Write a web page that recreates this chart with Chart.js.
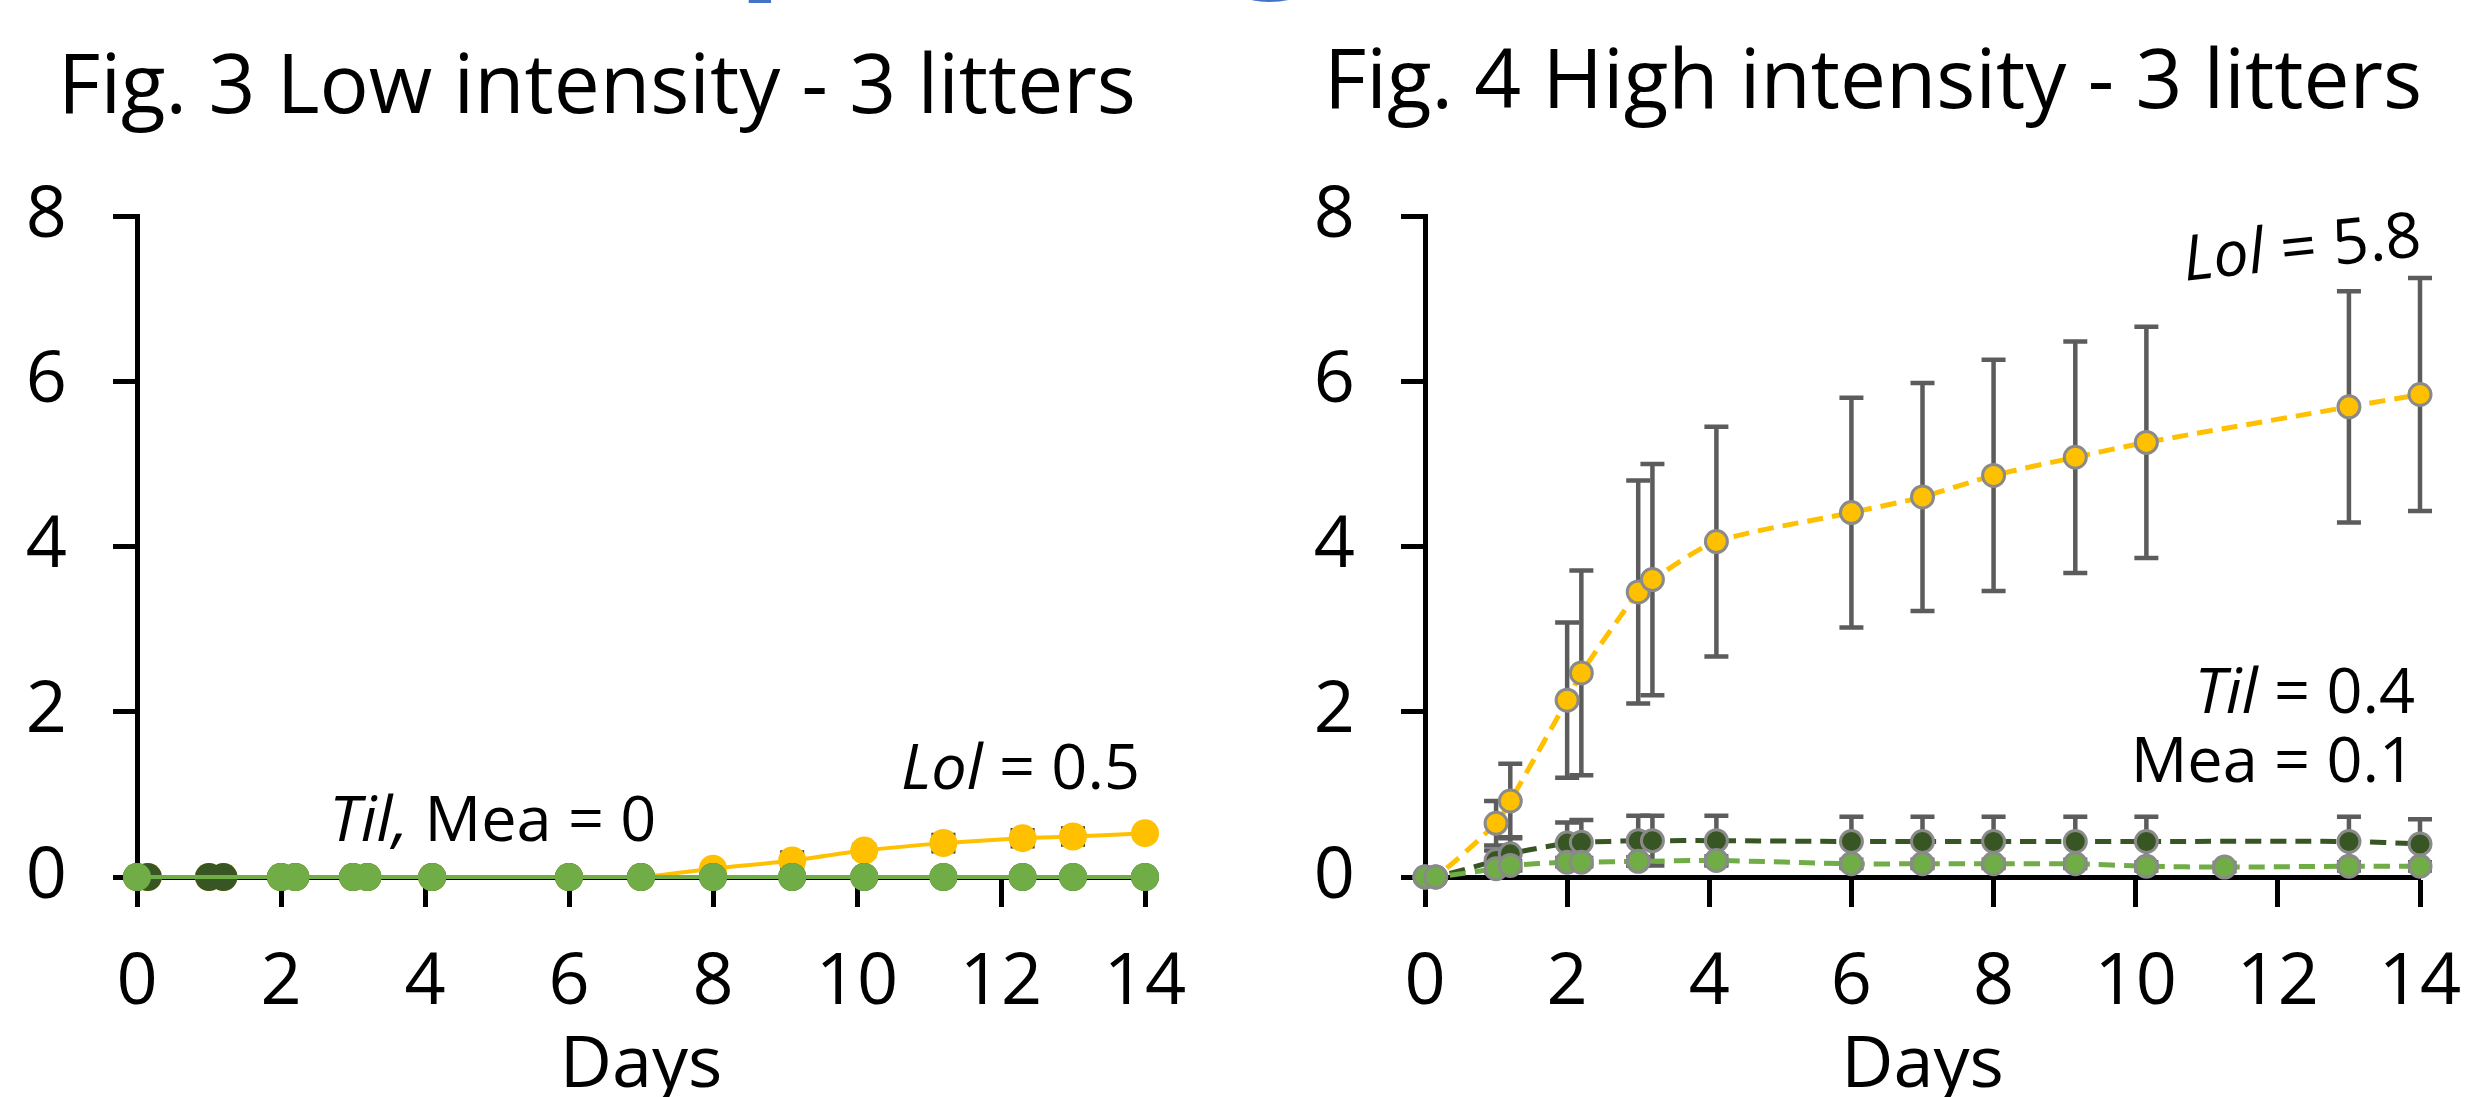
<!DOCTYPE html>
<html>
<head>
<meta charset="utf-8">
<script src="https://cdn.jsdelivr.net/npm/chart.js@4.4.1/dist/chart.umd.min.js"></script>
<style>
  html, body { margin: 0; padding: 0; background: #fff; }
  body { width: 2469px; height: 1097px; position: relative; overflow: hidden; }
  canvas { position: absolute; top: 0; }
  #fig3 { left: 0; }
  #fig4 { left: 1234px; }
</style>
</head>
<body>
<canvas id="fig3" width="1234" height="1097"></canvas>
<canvas id="fig4" width="1235" height="1097"></canvas>
<script>
// Fig. 3 - low intensity (days of sampling)
const lowDays = [0, 0.15, 1, 1.2, 2, 2.2, 3, 3.2, 4.1, 6, 7, 8, 9.1, 10.1, 11.2, 12.3, 13, 14];
const lowLol = [0, 0, 0, 0, 0, 0, 0, 0, 0, 0, 0, 0.1, 0.2, 0.32, 0.41, 0.47, 0.49, 0.53];
const lowLolErr = [0, 0, 0, 0, 0, 0, 0, 0, 0, 0, 0, 0.05, 0.1, 0.07, 0.1, 0.1, 0.1, 0.05];
const lowTil = [0, 0, 0, 0, 0, 0, 0, 0, 0, 0, 0, 0, 0, 0, 0, 0, 0, 0];
const lowMea = [0, null, null, null, 0, 0, 0, 0, 0, 0, 0, 0, 0, 0, 0, 0, 0, 0];

// Fig. 4 - high intensity
const highDays = [0, 0.15, 1, 1.2, 2, 2.2, 3, 3.2, 4.1, 6, 7, 8, 9.15, 10.15, 11.25, 13, 14];
const highLol = [0, 0, 0.65, 0.92, 2.14, 2.47, 3.45, 3.6, 4.06, 4.41, 4.6, 4.86, 5.08, 5.26, null, 5.69, 5.84];
const highLolErr = [0, 0, 0.27, 0.45, 0.94, 1.24, 1.35, 1.4, 1.39, 1.39, 1.38, 1.4, 1.4, 1.4, null, 1.4, 1.41];
const highTil = [0, 0, 0.2, 0.28, 0.41, 0.42, 0.44, 0.44, 0.44, 0.43, 0.43, 0.43, 0.43, 0.43, null, 0.43, 0.4];
const highTilErr = [0, 0, 0.12, 0.2, 0.25, 0.27, 0.3, 0.3, 0.3, 0.3, 0.3, 0.3, 0.3, 0.3, null, 0.3, 0.3];
const highMea = [0, 0, 0.1, 0.14, 0.18, 0.18, 0.19, null, 0.2, 0.16, 0.16, 0.16, 0.16, 0.13, 0.12, 0.13, 0.13];
const highMeaErr = [0, 0, 0.04, 0.05, 0.05, 0.05, 0.05, null, 0.05, 0.05, 0.05, 0.05, 0.05, 0.05, 0.05, 0.05, 0.05];

const xTicks = [0, 2, 4, 6, 8, 10, 12, 14];
const yTicks = [0, 2, 4, 6, 8];

const FONT = '"Open Sans", "Noto Sans", sans-serif';
const LOL = '#FFC000', TIL = '#375623', MEA = '#70AD47';

// zip days + values into points, drop the missing ones
function pts(days, vals, errs) {
  const out = [];
  days.forEach((d, i) => {
    if (vals[i] == null) return;
    out.push({ x: d, y: vals[i], e: errs ? errs[i] : 0 });
  });
  return out;
}

// error bars, drawn just under each dataset's own markers
const errorBars = {
  id: 'errorBars',
  beforeDatasetDraw(chart, args) {
    const ds = chart.data.datasets[args.index];
    if (!ds.errColor) return;
    const { x, y } = chart.scales;
    const ctx = chart.ctx;
    ctx.save();
    ctx.strokeStyle = ds.errColor;
    ctx.lineWidth = ds.errWidth;
    ds.data.forEach(p => {
      if (!p.e) return;
      const px = x.getPixelForValue(p.x);
      const t = y.getPixelForValue(p.y + p.e);
      const b = y.getPixelForValue(p.y - p.e);
      ctx.beginPath();
      ctx.moveTo(px, t); ctx.lineTo(px, b);
      ctx.moveTo(px - ds.capHalf, t); ctx.lineTo(px + ds.capHalf, t);
      ctx.moveTo(px - ds.capHalf, b); ctx.lineTo(px + ds.capHalf, b);
      ctx.stroke();
    });
    ctx.restore();
  }
};

// titles, notes (with italic species names) and the cut heading at the top
const texts = {
  id: 'texts',
  afterDraw(chart, args, opts) {
    const ctx = chart.ctx;
    const { x, y } = chart.scales;
    ctx.save();
    ctx.fillStyle = '#000';
    ctx.textBaseline = 'alphabetic';
    // title
    const t = opts.title;
    ctx.font = `${t.size}px ${FONT}`;
    ctx.textAlign = 'center';
    ctx.fillText(t.text, t.cx, t.base);
    // notes
    ctx.textAlign = 'left';
    opts.notes.forEach(n => {
      const fonts = n.segs.map(s => `${s[1] ? 'italic ' : ''}${n.size}px ${FONT}`);
      let w = 0;
      n.segs.forEach((s, i) => { ctx.font = fonts[i]; w += ctx.measureText(s[0]).width; });
      ctx.save();
      ctx.translate(x.getPixelForValue(n.x), y.getPixelForValue(n.y));
      if (n.rot) ctx.rotate(n.rot * Math.PI / 180);
      let cx = n.align === 'right' ? -w : 0;
      n.segs.forEach((s, i) => {
        ctx.font = fonts[i];
        ctx.fillText(s[0], cx, 0);
        cx += ctx.measureText(s[0]).width;
      });
      ctx.restore();
    });
    // blue heading cut off by the top edge (only descender tips left)
    ctx.fillStyle = '#4472C4';
    (opts.cut || []).forEach(c => {
      ctx.font = `bold ${c.size}px ${FONT}`;
      ctx.fillText(c.text, c.x, c.base);
    });
    ctx.restore();
  }
};

function scales(yWidth) {
  const tickFont = { family: FONT, size: 72 };
  return {
    x: {
      type: 'linear', min: 0, max: 14,
      afterBuildTicks: s => { s.ticks = xTicks.map(v => ({ value: v })); },
      ticks: { color: '#000', font: { family: FONT, size: 72, lineHeight: 2.0 }, padding: 4, maxRotation: 0, autoSkip: false },
      grid: { display: true, drawOnChartArea: false, drawTicks: true, tickLength: 30, tickWidth: 5, tickColor: '#000' },
      border: { display: true, color: '#000', width: 5 },
      title: { display: true, text: 'Days', color: '#000', font: { family: FONT, size: 72, lineHeight: 0.8 }, padding: { top: 0, bottom: 2 } },
      afterFit: s => { s.height = 220; }
    },
    y: {
      min: 0, max: 8,
      afterBuildTicks: s => { s.ticks = yTicks.map(v => ({ value: v })); },
      ticks: { color: '#000', font: tickFont, padding: 46 },
      grid: { display: true, drawOnChartArea: false, drawTicks: true, tickLength: 24, tickWidth: 5, tickColor: '#000' },
      border: { display: true, color: '#000', width: 5 },
      afterFit: s => { s.width = yWidth; }
    }
  };
}

function series(label, data, color, order, opt) {
  return Object.assign({
    label, data, order,
    borderColor: color, backgroundColor: color,
    pointBackgroundColor: color,
    borderWidth: 4, tension: 0.25, clip: false
  }, opt);
}

const lowPoint = { pointRadius: 14, pointBorderWidth: 0, pointHoverRadius: 14 };
const highPoint = { pointRadius: 11, pointBorderWidth: 3, pointBorderColor: '#8a8a8a', pointHoverRadius: 11, borderWidth: 5, borderDash: [16, 9] };
const highErr = { errColor: '#5c5c5c', errWidth: 4.5, capHalf: 12 };

new Chart(document.getElementById('fig3'), {
  type: 'line',
  data: {
    datasets: [
      series('Mea', pts(lowDays, lowMea), MEA, 0, lowPoint),
      series('Til', pts(lowDays, lowTil), TIL, 1, lowPoint),
      series('Lol', pts(lowDays, lowLol, lowLolErr), LOL, 2, Object.assign({ errColor: '#3a3a3a', errWidth: 4, capHalf: 12 }, lowPoint))
    ]
  },
  options: {
    responsive: false, animation: false, events: [],
    layout: { padding: { top: 216, right: 89, bottom: 0, left: 0 } },
    scales: scales(137),
    plugins: {
      legend: { display: false }, tooltip: { enabled: false },
      texts: {
        title: { text: 'Fig. 3 Low intensity - 3 litters', cx: 597, base: 113, size: 82 },
        notes: [
          { segs: [['Til,', true], [' Mea = 0', false]], x: 2.67, y: 0.44, align: 'left', size: 63 },
          { segs: [['Lol', true], [' = 0.5', false]], x: 13.93, y: 1.07, align: 'right', size: 63 }
        ],
        cut: [{ text: 'p', x: 737, base: -33, size: 150 }]
      }
    }
  },
  plugins: [errorBars, texts]
});

new Chart(document.getElementById('fig4'), {
  type: 'line',
  data: {
    datasets: [
      series('Mea', pts(highDays, highMea, highMeaErr), MEA, 0, Object.assign({}, highPoint, highErr)),
      series('Til', pts(highDays, highTil, highTilErr), TIL, 1, Object.assign({}, highPoint, highErr)),
      series('Lol', pts(highDays, highLol, highLolErr), LOL, 2, Object.assign({}, highPoint, highErr))
    ]
  },
  options: {
    responsive: false, animation: false, events: [],
    layout: { padding: { top: 216, right: 49, bottom: 0, left: 0 } },
    scales: scales(191),
    plugins: {
      legend: { display: false }, tooltip: { enabled: false },
      texts: {
        title: { text: 'Fig. 4 High intensity - 3 litters', cx: 639, base: 108, size: 82 },
        notes: [
          { segs: [['Lol', true], [' = 5.8', false]], x: 14.04, y: 7.52, align: 'right', size: 63, rot: -6 },
          { segs: [['Til', true], [' = 0.4', false]], x: 13.93, y: 1.99, align: 'right', size: 63 },
          { segs: [['Mea = 0.1', false]], x: 13.93, y: 1.15, align: 'right', size: 63 }
        ],
        cut: [{ text: 'g', x: -1, base: -34, size: 150 }]
      }
    }
  },
  plugins: [errorBars, texts]
});
</script>
</body>
</html>
